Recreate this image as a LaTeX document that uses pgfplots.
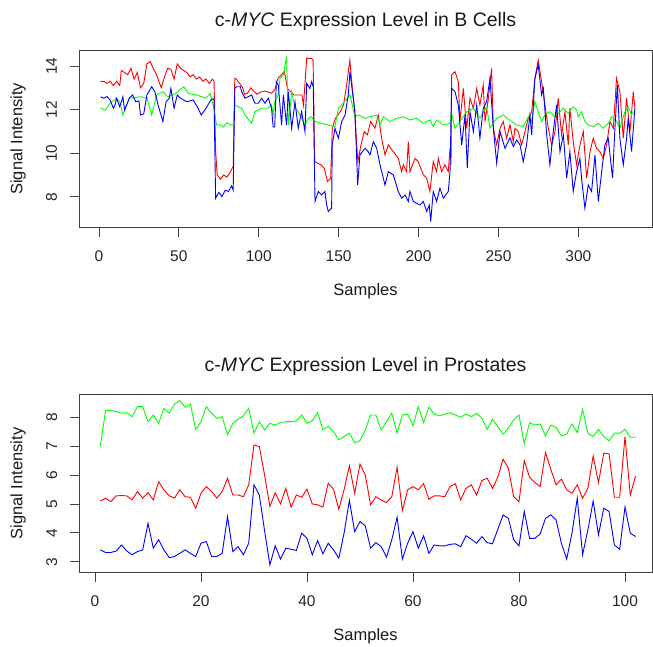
\documentclass[border=0pt]{standalone}
\usepackage{fontspec}
\setmainfont{Liberation Sans}
\usepackage{pgfplots}
\pgfplotsset{compat=1.18}
\definecolor{rred}{RGB}{255,0,0}
\definecolor{rgreen}{RGB}{0,255,0}
\definecolor{rblue}{RGB}{0,0,255}
\pgfplotsset{
  rpanel/.style={
    scale only axis, width=573pt,
    axis line style={black!75, line width=0.8pt},
    tick align=outside, xtick pos=bottom, ytick pos=left,
    major tick length=9pt,
    tick style={black!75, line width=0.8pt},
    minor tick num=0,
    /pgf/number format/assume math mode=true,
    ticklabel style={font=\fontsize{15.5}{18}\selectfont, text=black!85},
    xticklabel style={anchor=north, inner sep=0pt},
    yticklabel style={rotate=90, anchor=base, inner sep=0pt},
    xticklabel shift=14pt,
    yticklabel shift=13pt,
    label style={font=\fontsize{16.5}{19}\selectfont, text=black!90},
    xlabel style={at={([yshift=-64pt]axis description cs:0.5,0)}, anchor=center},
    ylabel style={at={([xshift=-61pt]axis description cs:0,0.5)}, anchor=center},
    title style={at={([yshift=17pt]axis description cs:0.5,1)}, anchor=base, font=\fontsize{19.5}{23}\selectfont, text=black!90},
    xlabel={Samples}, ylabel={Signal Intensity},
    every axis plot/.append style={line width=0.9pt, mark=none},
  }
}
\begin{document}
\begin{tikzpicture}[x=1pt,y=1pt]
\useasboundingbox (0,0) rectangle (653,646);
% ---------------- top panel ----------------
\begin{axis}[rpanel, at={(79pt,418.3pt)}, anchor=south west, height=177.7pt,
  xmin=-12.5, xmax=346.1, ymin=6.577, ymax=14.735,
  xtick={0,50,100,150,200,250,300}, ytick={8,10,12,14},
  title={c-\textit{MYC} Expression Level in B Cells}]
\addplot[rred] coordinates {(1,13.28)(3,13.3)(5,13.2)(7,13.3)(9,13.1)(11,13.3)(13,13.1)(14,13.8)(16,13.7)(18,13.6)(20,13.9)(22,13.4)(24,13.7)(26,13.0)(28,13.2)(30,14.1)(32,14.2)(34,13.9)(36,13.6)(38,13.2)(39,13.0)(41,13.5)(43,13.9)(45,13.85)(47,13.4)(49,14.1)(51,13.9)(53,13.8)(55,13.7)(57,13.5)(59,13.6)(61,13.4)(63,13.5)(65,13.3)(67,13.4)(69,13.2)(71,13.4)(72,13.3)(73,10.1)(74,9.0)(76,8.8)(78,9.0)(80,8.9)(82,9.1)(84,9.4)(85,13.43)(86,13.4)(88,13.2)(90,13.0)(91,12.7)(93,12.75)(95,13.0)(96,12.9)(99,12.7)(101,12.8)(104,12.85)(108,12.75)(110,12.9)(112,13.43)(116,13.74)(118,12.97)(122,12.67)(127,12.67)(128,12.2)(130,14.35)(133,14.35)(134,14.27)(135,9.61)(139,9.46)(141,9.3)(143,8.7)(145,8.85)(146,11.14)(148,11.6)(151,11.9)(153,12.2)(155,13.13)(157,14.27)(158,13.43)(160,11.9)(162,9.61)(164,10.38)(166,10.99)(168,10.84)(170,11.45)(172.7,11.14)(174.8,11.75)(176.9,10.68)(179,9.92)(181.1,10.38)(184.2,10.07)(187.3,9.76)(189.4,9.15)(190.5,9.46)(192.5,9.15)(193.6,10.53)(194.6,9.15)(197.8,9.76)(199.8,9.61)(203,9.0)(205.1,8.85)(207.1,8.24)(209.2,9.61)(211.3,9.15)(212.4,9.76)(214.4,9.15)(216.5,9.46)(218.6,9.15)(219.7,10.22)(220.3,9.46)(220.7,13.59)(222.8,13.74)(224.9,13.28)(225.9,11.45)(228,12.97)(230.1,11.14)(232.2,12.52)(234.3,12.06)(236.4,12.97)(238.4,12.21)(240.5,13.13)(241.6,11.45)(243.7,12.52)(245.7,13.89)(246.8,11.14)(248.9,10.38)(251,11.14)(253,11.45)(255.1,10.68)(257.2,11.3)(259.3,10.53)(260.3,11.14)(262.4,10.99)(264.5,10.38)(266.6,10.99)(268.7,11.6)(270.8,11.9)(272.8,13.43)(274.9,14.27)(277,13.28)(279.1,12.21)(281.2,11.14)(283.3,10.38)(285.4,10.99)(287.4,12.52)(289.5,10.84)(291.6,11.9)(293.7,10.38)(294.7,12.06)(296.8,10.53)(298.9,9.46)(301,10.38)(303.1,10.99)(305.2,8.85)(307.3,10.07)(309.3,10.68)(311.4,10.22)(313.5,10.07)(315.6,9.76)(317.7,10.38)(319.8,11.45)(321.9,11.14)(323.9,13.43)(326,12.82)(328.1,10.68)(330.2,12.52)(332.3,10.99)(334.4,12.82)(335.4,12.06)};
\addplot[rgreen] coordinates {(1,12.06)(4,11.98)(7,12.29)(11,12.52)(13,12.36)(15,11.75)(19,12.52)(26,12.59)(30,12.52)(33,11.75)(36,12.67)(40,12.82)(43,12.59)(48,12.74)(53,13.05)(56,12.74)(61,12.67)(67,12.52)(69.5,12.74)(71.5,12.21)(73.6,11.29)(76,11.3)(78,11.2)(80,11.4)(82,11.3)(84,11.3)(85,12.21)(87,12.13)(89.3,12.06)(91.4,11.75)(95.5,11.37)(97.6,11.9)(101.8,12.06)(106,12.06)(108,12.21)(109,11.75)(110,12.36)(112.2,12.67)(113.3,13.43)(115.4,13.59)(117.4,14.43)(118.5,11.29)(120.6,12.82)(122.7,12.06)(124.7,11.9)(128.9,11.29)(131,11.6)(133,11.67)(135.2,11.45)(139.3,11.37)(143.5,11.29)(147.7,11.22)(149.8,12.06)(151.9,12.21)(157.1,12.67)(160.2,11.67)(162.3,11.75)(166.5,11.6)(169.6,11.67)(173.8,11.75)(175.9,11.29)(178,11.67)(182.1,11.45)(186.3,11.6)(190.5,11.67)(194.6,11.52)(198.8,11.6)(203,11.37)(207.1,11.52)(209.2,11.22)(211.3,11.52)(215.5,11.29)(219.7,11.37)(220.7,11.83)(222.8,11.14)(225.9,11.45)(230.1,11.9)(234.3,12.06)(238.4,11.6)(242.6,12.13)(244.7,11.14)(248.9,11.6)(253,11.75)(257.2,11.5)(261.4,11.29)(265.5,11.22)(268.7,11.67)(270.8,11.45)(272.8,12.36)(274.9,11.9)(277,11.45)(279.1,11.75)(282.2,11.9)(285.4,11.67)(290.6,12.06)(293.7,11.83)(296.8,12.13)(298.9,11.98)(300,11.67)(302,11.9)(304.1,11.45)(306.2,11.29)(309.3,11.22)(312.5,11.37)(315.6,11.14)(318.7,11.37)(320.8,11.67)(323.9,11.45)(326,11.14)(329.2,11.9)(331.2,12.13)(333.3,11.75)(335.4,11.98)};
\addplot[rblue] coordinates {(1,12.59)(3,12.52)(5,12.6)(7,12.44)(9,12.06)(10,12.2)(11,12.52)(13,12.13)(15,12.59)(16,11.98)(19,12.52)(21,12.67)(23,12.36)(25,12.4)(26,11.75)(28,11.8)(30,12.67)(33,13.05)(35,12.82)(37,12.21)(40,11.45)(42,12.36)(44,12.52)(45,12.97)(47,12.06)(49,12.67)(51,12.52)(55,12.36)(59,12.44)(62,12.06)(64,11.75)(67,12.06)(70,12.44)(72,12.5)(73,7.93)(75,8.2)(77,8.0)(79,8.3)(81,8.24)(83,8.5)(84,8.3)(85,12.97)(86,13.05)(88.5,13.05)(89.3,12.82)(91.4,12.52)(95.5,12.67)(97.6,12.29)(99.7,12.29)(101.8,12.52)(103.9,12.29)(106,12.52)(108,12.06)(109,11.2)(110,11.2)(111,13.28)(112.2,13.13)(114.3,11.29)(115.4,12.67)(117.4,11.29)(118.5,12.82)(120.6,11.14)(122.7,12.36)(124.7,11.14)(126.8,11.9)(128.9,10.99)(130,13.2)(132,12.97)(133.1,13.28)(134.1,13.05)(135.2,7.78)(137.3,8.24)(139.3,8.08)(141.4,8.24)(142.5,7.62)(143.5,7.32)(145.6,7.47)(146,10.38)(147.7,11.14)(149.8,10.68)(151.9,11.45)(154,11.75)(156,12.67)(157.1,13.74)(158.1,13.13)(160.2,11.9)(161.9,8.54)(163.3,9.92)(166.5,10.22)(168.5,10.07)(169.6,9.92)(171.7,10.53)(173.8,10.22)(175.9,9.46)(179,8.54)(181.1,9.15)(184.2,9.0)(187.3,8.24)(189.4,7.93)(191.5,8.08)(193.6,7.78)(194.6,8.24)(196.7,7.78)(200.9,7.62)(203,7.78)(205.1,7.32)(206.7,7.62)(207.6,6.86)(209.2,8.24)(211.3,7.78)(213.4,8.39)(215.5,7.93)(218.6,8.24)(219.7,9.15)(220.7,12.97)(222.8,12.82)(224.9,12.21)(227,10.38)(229.1,11.75)(230.5,9.31)(232.2,11.9)(234.3,10.99)(236.4,12.21)(238.4,10.68)(240.5,12.06)(242.6,12.36)(244.7,13.43)(246.8,11.14)(248.9,9.53)(251,10.99)(254.1,10.22)(257.2,10.7)(259.3,10.3)(261.4,10.6)(263.5,10.38)(265.5,9.61)(267.6,10.38)(269.7,11.75)(270.8,10.84)(272.8,13.43)(274.9,14.05)(277,12.67)(278.1,12.97)(280.2,10.84)(282.2,9.46)(284.3,10.99)(286.4,12.21)(288.5,10.07)(290.6,10.84)(292.7,8.85)(294.7,10.07)(296.8,8.24)(298.9,9.15)(301,9.76)(302,8.85)(304.1,7.47)(306.2,8.54)(308.3,8.24)(310.4,9.92)(312.5,7.78)(314.6,9.15)(316.6,10.38)(318.7,10.68)(321.4,8.85)(322.9,11.14)(324.4,13.13)(326,10.68)(328.1,9.46)(330.2,10.68)(331.2,11.6)(333.3,10.07)(335.4,12.06)};
\end{axis}
% ---------------- bottom panel ----------------
\begin{axis}[rpanel, at={(79pt,73.3pt)}, anchor=south west, height=178.4pt,
  xmin=-3.02, xmax=105.1, ymin=2.619, ymax=8.796,
  xtick={0,20,40,60,80,100}, ytick={3,4,5,6,7,8},
  title={c-\textit{MYC} Expression Level in Prostates}]
\addplot[rgreen] coordinates {(1,6.99)(2,8.23)(3,8.23)(4,8.2)(5,8.14)(6,8.16)(7,8.02)(8,8.37)(9,8.37)(10,7.85)(11,8.08)(12,7.79)(13,8.31)(14,8.14)(15,8.46)(16,8.58)(17,8.35)(18,8.46)(19,7.58)(20,7.85)(21,8.37)(22,8.14)(23,7.96)(24,8.02)(25,7.39)(26,7.79)(27,7.93)(28,8.05)(29,8.31)(30,7.45)(31,7.85)(32,7.56)(33,7.79)(34,7.73)(35,7.82)(36,7.85)(37,7.85)(38,7.88)(39,8.08)(40,7.79)(41,7.88)(42,8.16)(43,7.56)(44,7.68)(45,7.5)(46,7.22)(47,7.33)(48,7.45)(49,7.12)(50,7.19)(51,7.56)(52,8.08)(53,8.08)(54,7.56)(55,7.85)(56,8.14)(57,7.45)(58,8.08)(59,8.11)(60,7.7)(61,8.37)(62,7.82)(63,8.35)(64,8.11)(65,8.05)(66,8.11)(67,8.16)(68,8.08)(69,8.0)(70,8.11)(71,8.02)(72,8.14)(73,7.96)(74,7.58)(75,7.93)(76,7.68)(77,7.42)(78,7.62)(79,7.91)(80,8.08)(81,7.08)(82,7.82)(83,7.73)(84,7.77)(85,7.35)(86,7.73)(87,7.65)(88,7.35)(89,7.42)(90,7.77)(91,7.47)(92,8.28)(93,7.45)(94,7.33)(95,7.58)(96,7.33)(97,7.19)(98,7.45)(99,7.45)(100,7.58)(101,7.31)(102,7.31)};
\addplot[rred] coordinates {(1,5.10)(2,5.2)(3,5.08)(4,5.28)(5,5.29)(6,5.28)(7,5.14)(8,5.43)(9,5.2)(10,5.39)(11,5.14)(12,5.77)(13,5.49)(14,5.28)(15,5.2)(16,5.49)(17,5.25)(18,5.23)(19,4.85)(20,5.37)(21,5.6)(22,5.43)(23,5.2)(24,5.43)(25,5.89)(26,5.31)(27,5.31)(28,5.25)(29,5.66)(30,7.04)(31,6.99)(32,6.0)(33,4.91)(34,5.39)(35,5.0)(36,5.54)(37,4.89)(38,5.31)(39,5.23)(40,5.51)(41,5.0)(42,4.97)(43,4.89)(44,5.72)(45,5.51)(46,4.82)(47,5.49)(48,6.32)(49,5.37)(50,6.38)(51,6.0)(52,4.97)(53,5.25)(54,5.14)(55,5.05)(56,5.25)(57,6.27)(58,4.77)(59,5.49)(60,5.6)(61,5.49)(62,5.7)(63,5.16)(64,5.28)(65,5.28)(66,5.25)(67,5.6)(68,5.7)(69,5.14)(70,5.54)(71,5.66)(72,5.31)(73,5.81)(74,5.89)(75,5.54)(76,5.92)(77,6.55)(78,6.24)(79,5.25)(80,5.08)(81,6.5)(82,5.92)(83,5.74)(84,5.6)(85,6.78)(86,6.2)(87,5.66)(88,5.86)(89,5.49)(90,5.37)(91,5.66)(92,5.2)(93,5.54)(94,6.66)(95,5.74)(96,6.76)(97,6.73)(98,5.23)(99,5.23)(100,7.33)(101,5.31)(102,5.97)};
\addplot[rblue] coordinates {(1,3.41)(2,3.32)(3,3.32)(4,3.37)(5,3.58)(6,3.37)(7,3.24)(8,3.35)(9,3.41)(10,4.33)(11,3.47)(12,3.76)(13,3.41)(14,3.14)(15,3.18)(16,3.29)(17,3.41)(18,3.29)(19,3.18)(20,3.64)(21,3.70)(22,3.18)(23,3.18)(24,3.29)(25,4.56)(26,3.35)(27,3.52)(28,3.24)(29,3.64)(30,5.66)(31,5.31)(32,4.07)(33,2.89)(34,3.55)(35,3.09)(36,3.47)(37,3.43)(38,3.39)(39,3.99)(40,3.81)(41,3.24)(42,3.73)(43,3.27)(44,3.64)(45,3.41)(46,3.12)(47,3.99)(48,5.12)(49,4.04)(50,4.39)(51,4.24)(52,3.47)(53,3.66)(54,3.52)(55,3.16)(56,3.76)(57,4.54)(58,3.09)(59,3.64)(60,4.04)(61,3.47)(62,3.9)(63,3.29)(64,3.58)(65,3.55)(66,3.55)(67,3.6)(68,3.62)(69,3.52)(70,3.9)(71,3.78)(72,3.64)(73,3.87)(74,3.66)(75,3.62)(76,4.12)(77,4.62)(78,4.5)(79,3.76)(80,3.55)(81,4.74)(82,3.81)(83,3.81)(84,3.96)(85,4.5)(86,4.62)(87,4.45)(88,3.64)(89,3.09)(90,3.99)(91,5.2)(92,3.24)(93,4.1)(94,5.1)(95,3.93)(96,4.85)(97,4.74)(98,3.58)(99,3.43)(100,4.89)(101,3.99)(102,3.87)};
\end{axis}
\end{tikzpicture}
\end{document}
